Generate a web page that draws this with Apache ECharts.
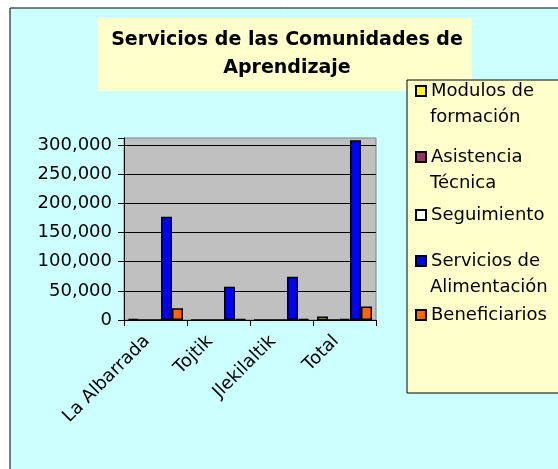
<html>
<head>
<meta charset="UTF-8">
<title>Servicios de las Comunidades de Aprendizaje</title>
<script src="https://cdn.jsdelivr.net/npm/echarts@6/dist/echarts.min.js"></script>
<style>html,body,#container{width:100%;height:100%;margin:0;padding:0;background:#fff;}</style>
</head>
<body>
<div id="container"></div>
<script>
// datos
var comunidades = ['La Albarrada', 'Tojtik', 'Jlekilaltik', 'Total'];
var modulos = [1500, 0, 0, 6000];
var asistencia = [0, 0, 0, 0];
var seguimiento = [0, 0, 0, 1500];
var alimentacion = [177000, 57000, 74000, 308000];
var beneficiarios = [20000, 1500, 1500, 23000];

var nombres = ['Modulos de', 'Asistencia', 'Seguimiento', 'Servicios de', 'Beneficiarios'];
var segundaLinea = ['formación', 'Técnica', '', 'Alimentación', ''];
var colores = ['#FFFF00', '#993366', '#FFFFFF', '#0000FF', '#FF6600'];
var valores = [modulos, asistencia, seguimiento, alimentacion, beneficiarios];
var legendY = [92, 158, 216, 262, 316];

var fuente = 'DejaVu Sans';
var myChart = echarts.init(document.getElementById('container'));

var series = [], legends = [], textos = [];
for (var i = 0; i < nombres.length; i++) {
	series.push({
		name: nombres[i],
		type: 'bar',
		data: valores[i],
		barWidth: 11,
		barGap: '0%',
		itemStyle: {color: colores[i], borderColor: '#000', borderWidth: 1.5}
	});
	legends.push({
		data: [nombres[i]],
		left: 415,
		top: legendY[i] - 10,
		padding: 0,
		itemWidth: 10,
		itemHeight: 10,
		icon: 'rect',
		selectedMode: false,
		textStyle: {fontFamily: fuente, fontSize: 18, color: '#000'}
	});
	if (segundaLinea[i]) {
		textos.push({
			type: 'text', x: 430, y: legendY[i] + 25,
			style: {text: segundaLinea[i], font: '18px "DejaVu Sans"', fill: '#000', verticalAlign: 'middle'}
		});
	}
}

myChart.setOption({
	animation: false,
	backgroundColor: '#fff',
	title: {
		text: 'Servicios de las Comunidades de\nAprendizaje',
		left: 282,
		top: 21,
		textAlign: 'center',
		textStyle: {fontFamily: fuente, fontSize: 19, fontWeight: 'bold', color: '#000', lineHeight: 28}
	},
	legend: legends,
	graphic: [
		{type: 'rect', z: -10, shape: {x: 10, y: 8, width: 560, height: 470},
			style: {fill: '#CCFFFF', stroke: '#000', lineWidth: 1}},
		{type: 'rect', z: -9, shape: {x: 98, y: 18, width: 374, height: 73},
			style: {fill: '#FFFFCC'}},
		{type: 'rect', z: -8, shape: {x: 407, y: 80, width: 170, height: 313},
			style: {fill: '#FFFFCC', stroke: '#000', lineWidth: 1}}
	].concat(textos),
	grid: {
		left: 124, top: 138, right: 182, bottom: 149,
		show: true, backgroundColor: '#C0C0C0', borderColor: '#808080', borderWidth: 1
	},
	xAxis: {
		type: 'category',
		data: comunidades,
		axisLine: {lineStyle: {color: '#000', width: 1}},
		axisTick: {show: true, length: 6, lineStyle: {color: '#000'}},
		axisLabel: {rotate: 45, margin: 10, padding: [0, 12, 0, 0], fontFamily: fuente, fontSize: 18, color: '#000'}
	},
	yAxis: {
		type: 'value',
		min: 0,
		max: 312000,
		interval: 50000,
		axisLine: {show: true, lineStyle: {color: '#000', width: 1}},
		axisTick: {show: true, length: 6, lineStyle: {color: '#000'}},
		splitLine: {show: true, showMaxLine: false, lineStyle: {color: '#000', width: 1}},
		axisLabel: {
			margin: 12, fontFamily: fuente, fontSize: 18, color: '#000',
			formatter: function (v) { return v % 50000 === 0 ? v.toLocaleString('en-US') : ''; }
		}
	},
	series: series
});

window.onresize = function () {
	myChart.resize();
};
</script>
</body>
</html>
